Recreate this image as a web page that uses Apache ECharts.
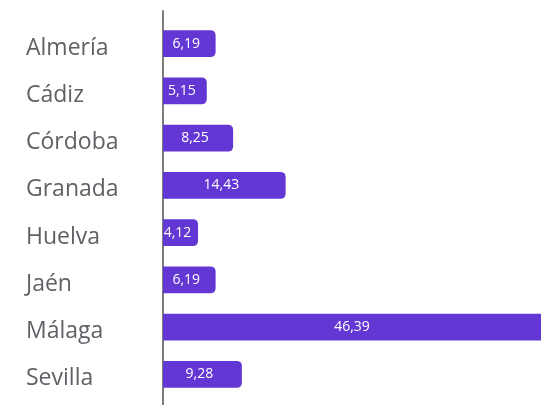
<!DOCTYPE html>
<html><head><meta charset="utf-8">
<script src="https://cdn.jsdelivr.net/npm/echarts@6/dist/echarts.min.js"></script>
<style>html,body{margin:0;padding:0;background:#fff}#c{width:541px;height:405px}</style>
</head><body><div id="c"></div>
<script>
const categories = ['Almería','Cádiz','Córdoba','Granada','Huelva','Jaén','Málaga','Sevilla'];
const values = [6.19, 5.15, 8.25, 14.43, 4.12, 6.19, 46.39, 9.28];

const chart = echarts.init(document.getElementById('c'), null, {renderer:'canvas'});
chart.setOption({
  animation: false,
  grid: [
    {left: 163, width: 384, top: 20, height: 378, outerBoundsMode: 'none', containLabel: false},
    {left: 163, width: 1, top: 11, bottom: 0, outerBoundsMode: 'none', containLabel: false}
  ],
  xAxis: [
    {gridIndex: 0, type: 'value', min: 0, max: 45.18, show: false},
    {gridIndex: 1, type: 'value', show: false}
  ],
  yAxis: [
    {gridIndex: 0, type: 'category', data: categories, inverse: true,
     axisLine: {show: false}, axisTick: {show: false},
     axisLabel: {align: 'left', margin: 137,
       formatter: v => '{n|' + v + '}',
       rich: {n: {fontFamily: 'Open Sans', fontSize: 23, color: '#5f6166', padding: [9, 0, 0, 0]}}}},
    {gridIndex: 1, type: 'value', min: 0, max: 1,
     axisLine: {show: true, lineStyle: {color: '#7c7c7c', width: 2}},
     axisTick: {show: false}, axisLabel: {show: false}, splitLine: {show: false}}
  ],
  series: [{
    type: 'bar', data: values, xAxisIndex: 0, yAxisIndex: 0,
    barCategoryGap: '43%', clip: true,
    itemStyle: {color: '#6237d3', borderRadius: [0, 5, 5, 0]},
    label: {show: true, position: 'inside', offset: [-3, 0], color: '#ffffff', fontFamily: 'Open Sans', fontSize: 14,
      formatter: p => String(p.value).replace('.', ',')}
  }]
});
</script></body></html>
